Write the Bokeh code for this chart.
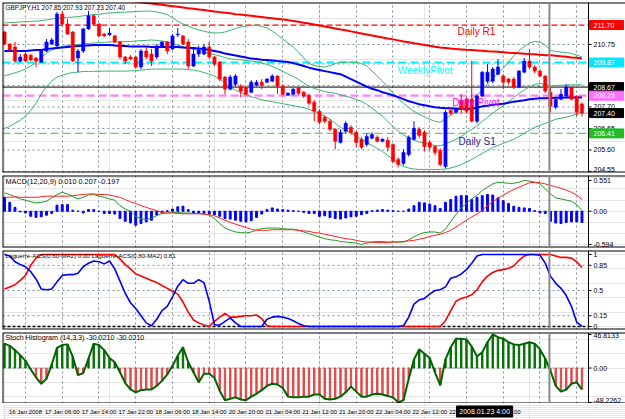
from bokeh.plotting import figure
from bokeh.layouts import column
from bokeh.models import Range1d, FixedTicker, Grid, Label, Span
from bokeh.core.properties import value
from bokeh.embed import file_html
from bokeh.resources import INLINE

# ---------------- data ----------------
open_ = [211.36,210.77,210.63,209.94,210.28,210.23,210.09,209.89,210.43,210.77,
         210.68,212.24,211.75,211.36,210.09,210.43,211.51,212.15,211.75,211.26,
         211.22,211.17,210.87,210.14,210.14,210.14,209.65,210.43,210.28,210.14,
         210.68,210.87,210.53,211.22,211.17,210.87,209.70,210.28,210.28,210.63,
         210.14,209.89,209.16,208.57,208.81,208.71,208.62,208.42,208.76,208.91,
         208.91,208.96,209.21,208.71,208.27,208.32,208.62,208.42,208.27,207.93,
         207.49,207.20,207.00,206.61,205.97,206.51,206.71,206.46,206.12,205.87,
         206.17,206.22,206.02,206.07,205.87,205.14,204.94,205.38,206.12,206.61,
         206.46,205.97,205.77,205.58,204.79,207.54,207.44,208.03,208.08,208.08,
         207.00,208.23,208.96,208.96,209.30,209.21,209.06,209.06,208.67,209.40,
         209.94,209.65,209.45,209.21,208.42,207.69,208.08,208.23,208.67,208.23,
         207.85]
high = [211.41,210.82,210.87,210.28,210.38,210.28,210.14,210.48,211.02,211.07,
        212.34,212.39,212.00,211.41,210.53,211.56,212.39,212.24,211.80,211.31,
        211.56,211.22,210.92,210.19,210.23,210.19,210.53,210.63,210.53,210.77,
        210.92,210.92,211.26,211.56,211.22,211.02,210.63,210.68,210.77,210.87,
        210.19,209.94,209.21,209.25,209.30,208.81,208.71,209.01,209.01,209.06,
        209.11,209.30,209.25,208.81,208.42,208.62,208.67,208.47,208.32,208.03,
        207.59,207.29,207.10,206.66,206.61,207.00,206.80,206.56,206.22,206.41,
        206.46,206.31,206.17,206.22,205.92,205.24,205.63,206.31,207.00,206.71,
        206.56,206.07,205.82,205.68,207.54,207.64,207.69,208.32,208.18,209.94,
        208.32,209.45,209.79,209.65,210.04,209.30,209.11,209.16,209.50,210.09,
        210.53,209.74,209.55,209.25,208.71,208.08,208.57,208.81,208.71,208.27,
        207.93]
low = [210.73,210.38,209.89,209.89,209.89,209.94,209.65,209.84,210.38,210.73,
       210.63,211.66,211.22,209.89,209.40,210.33,211.46,211.66,211.12,211.12,
       211.17,210.82,210.04,209.79,209.99,209.55,209.55,210.04,209.70,210.04,
       210.63,210.28,210.48,211.12,210.73,209.55,209.65,210.14,210.23,210.04,
       209.70,208.96,208.32,208.52,208.71,208.18,208.27,208.37,208.71,208.57,
       208.86,208.91,208.32,208.27,208.23,208.27,208.27,208.13,207.78,207.00,
       206.85,206.90,206.51,205.63,205.92,206.41,206.36,205.73,205.63,205.77,
       206.12,205.97,205.97,205.53,204.94,204.75,204.84,205.28,206.07,206.17,
       205.53,205.58,205.34,204.79,204.70,207.29,207.39,207.39,207.39,206.95,
       206.90,208.18,208.86,208.86,209.25,208.57,208.81,208.57,208.62,209.35,
       209.55,209.35,209.16,208.37,207.44,207.59,208.03,208.18,208.03,207.25,
       207.23]
close = [210.77,210.48,209.94,210.14,209.94,209.99,209.94,210.43,210.87,210.97,
         212.24,211.75,211.26,209.94,210.43,211.51,212.15,211.75,211.17,211.17,
         211.31,210.87,210.14,209.94,210.04,209.65,210.43,210.14,209.94,210.68,
         210.87,210.43,211.17,211.26,210.77,209.70,210.28,210.48,210.63,210.14,
         209.79,209.06,208.57,209.16,209.21,208.47,208.32,208.91,208.91,208.76,
         209.06,209.21,208.71,208.32,208.37,208.57,208.37,208.23,207.88,207.49,
         206.95,207.00,206.61,206.02,206.46,206.90,206.46,205.97,205.73,206.26,
         206.36,206.02,206.12,205.73,205.04,204.89,205.48,206.22,206.66,206.31,
         205.77,205.73,205.48,204.89,207.44,207.39,207.59,207.59,207.49,207.00,
         208.23,209.40,209.40,209.55,209.65,208.91,208.91,208.67,209.45,209.94,
         209.65,209.45,209.21,208.47,207.73,208.08,208.32,208.67,208.08,207.44,
         207.40]
ma_blue = [210.43,210.43,210.43,210.43,210.43,210.46,210.48,210.48,210.53,
           210.55,210.58,210.60,210.63,210.65,210.68,
           210.70,210.70,210.73,210.73,210.73,210.73,210.70,210.68,210.68,210.65,210.65,210.65,210.65,
           210.63,210.63,210.63,210.63,210.63,210.63,210.60,210.58,210.58,210.55,210.53,
           210.48,210.43,210.38,210.31,210.26,210.21,210.16,210.11,210.06,210.04,210.01,209.99,209.97,209.94,209.92,209.89,209.84,
           209.77,209.70,209.62,209.55,209.50,209.45,209.40,209.35,209.30,209.18,209.06,208.94,208.81,208.69,208.59,208.52,208.42,208.35,208.27,208.18,208.08,207.98,207.91,207.83,207.78,207.73,207.69,207.66,
           207.64,207.64,207.61,207.61,207.61,207.61,207.66,207.73,207.76,207.81,207.83,207.86,207.91,207.96,207.99,208.03,208.08,208.10,208.13,208.13,208.14,208.15,208.15,208.16,208.16,208.16,208.16]
ma_red = [213.62,213.58,213.55,213.51,213.48,213.45,213.42,213.39,213.36,213.33,
          213.30,213.27,213.24,213.21,213.18,213.15,213.12,213.09,213.06,213.03,
          213.00,212.97,212.94,212.91,212.87,212.84,212.81,212.78,212.75,212.72,
          212.69,212.65,212.62,212.59,212.56,212.52,212.49,212.46,212.43,212.40,
          212.36,212.33,212.30,212.27,212.23,212.21,212.18,212.15,212.12,212.09,
          212.06,212.03,212.00,211.97,211.94,211.90,211.86,211.81,211.77,211.73,
          211.68,211.63,211.58,211.53,211.48,211.44,211.39,211.34,211.29,211.24,
          211.19,211.14,211.09,211.04,211.00,210.95,210.90,210.86,210.81,210.77,
          210.73,210.69,210.64,210.60,210.58,210.55,210.53,210.51,210.49,210.48,
          210.46,210.44,210.42,210.41,210.39,210.37,210.35,210.34,210.32,210.30,
          210.28,210.27,210.25,210.23,210.22,210.20,210.17,210.15,210.12,210.10,
          210.07]
bb_upper = [211.80,211.82,211.83,211.85,211.86,211.88,211.89,211.91,211.95,211.99,
            212.03,212.05,212.07,212.09,212.11,212.15,212.18,212.21,212.23,212.26,
            212.29,212.30,212.32,212.33,212.34,212.36,212.37,212.38,212.38,212.34,
            212.28,212.21,212.05,211.89,211.75,211.65,211.54,211.46,211.40,211.33,
            211.31,211.32,211.36,211.44,211.53,211.61,211.65,211.68,211.70,211.63,
            211.56,211.41,211.22,211.02,210.82,210.63,210.38,210.09,209.82,209.72,
            209.67,209.65,209.72,209.82,209.89,209.89,209.89,209.88,209.82,209.70,
            209.45,209.21,208.96,208.67,208.37,208.10,207.88,207.66,207.49,207.34,
            207.22,207.10,207.00,206.95,207.12,207.29,207.44,207.64,207.86,208.08,
            208.27,208.54,208.81,209.08,209.35,209.60,209.89,210.19,210.46,210.65,
            210.82,210.90,210.87,210.73,210.46,210.41,210.38,210.36,210.31,210.23,
            210.14]
bb_mid = [209.23,209.28,209.37,209.45,209.55,209.71,209.89,210.12,210.33,210.48,
          210.59,210.65,210.70,210.73,210.75,210.78,210.80,210.82,210.84,210.86,
          210.87,210.88,210.88,210.89,210.90,210.92,210.94,210.95,210.97,210.95,
          210.92,210.88,210.80,210.72,210.65,210.58,210.52,210.46,210.39,210.31,
          210.26,210.19,210.11,210.05,210.02,210.00,209.97,209.94,209.91,209.84,
          209.78,209.68,209.56,209.44,209.31,209.19,209.04,208.87,208.70,208.60,
          208.53,208.45,208.41,208.36,208.30,208.23,208.15,208.07,207.97,207.83,
          207.64,207.44,207.25,207.00,206.75,206.52,206.34,206.19,206.08,205.99,
          205.93,205.87,205.82,205.80,205.90,206.00,206.12,206.26,206.44,206.61,
          206.78,206.99,207.20,207.40,207.59,207.76,207.96,208.15,208.36,208.53,
          208.69,208.80,208.84,208.81,208.73,208.75,208.76,208.77,208.78,208.78,
          208.78]
bb_lower = [206.66,206.75,206.90,207.05,207.25,207.54,207.88,208.32,208.71,208.96,
            209.16,209.25,209.33,209.38,209.40,209.43,209.43,209.44,209.44,209.45,
            209.45,209.45,209.45,209.45,209.46,209.48,209.50,209.52,209.55,209.55,
            209.55,209.55,209.55,209.55,209.55,209.52,209.50,209.45,209.38,209.30,
            209.21,209.06,208.86,208.67,208.52,208.40,208.30,208.20,208.13,208.05,
            208.00,207.96,207.91,207.86,207.81,207.76,207.71,207.66,207.59,207.49,
            207.39,207.25,207.10,206.90,206.71,206.56,206.41,206.26,206.12,205.97,
            205.82,205.68,205.53,205.33,205.14,204.94,204.79,204.72,204.67,204.65,
            204.65,204.65,204.65,204.65,204.67,204.72,204.79,204.89,205.01,205.14,
            205.28,205.43,205.58,205.73,205.82,205.92,206.02,206.12,206.26,206.41,
            206.56,206.71,206.80,206.90,207.00,207.10,207.15,207.20,207.27,207.34,
            207.44]
macd_hist = [0.25,0.16,0.07,-0.01,-0.03,-0.09,-0.11,-0.10,-0.07,-0.04,
             0.11,0.12,0.12,0.02,0.0,-0.03,0.03,0.03,0.0,-0.04,
             -0.04,-0.05,-0.13,-0.18,-0.21,-0.25,-0.22,-0.19,-0.16,-0.07,
             -0.03,0.01,0.04,0.08,0.09,0.03,-0.03,-0.03,-0.04,-0.05,
             -0.06,-0.09,-0.13,-0.14,-0.16,-0.18,-0.19,-0.17,-0.11,-0.05,
             0.03,0.06,0.04,0.03,0.02,0.01,0.0,-0.02,-0.04,-0.04,
             -0.09,-0.08,-0.11,-0.13,-0.14,-0.12,-0.10,-0.09,-0.06,-0.04,
             0.01,0.02,0.03,0.02,0.01,0.0,0.0,0.04,0.10,0.16,
             0.15,0.13,0.10,0.05,0.16,0.21,0.27,0.28,0.28,0.21,
             0.25,0.28,0.30,0.29,0.24,0.19,0.14,0.09,0.07,0.06,
             0.05,0.01,-0.03,-0.04,-0.18,-0.21,-0.22,-0.20,-0.19,-0.19,
             -0.20]
macd_main = [0.33,0.30,0.26,0.22,0.20,0.17,0.15,0.16,0.18,0.24,
             0.30,0.34,0.31,0.26,0.22,0.25,0.29,0.30,0.27,0.25,
             0.22,0.20,0.10,0.04,0.0,-0.09,-0.13,-0.15,-0.12,-0.08,
             -0.04,-0.03,-0.02,-0.02,-0.03,-0.03,-0.04,-0.04,-0.05,-0.07,
             -0.13,-0.22,-0.30,-0.34,-0.37,-0.38,-0.39,-0.37,-0.34,-0.31,
             -0.30,-0.30,-0.30,-0.31,-0.32,-0.32,-0.34,-0.37,-0.40,-0.43,
             -0.46,-0.49,-0.51,-0.52,-0.54,-0.55,-0.56,-0.57,-0.594,-0.57,
             -0.55,-0.54,-0.54,-0.55,-0.55,-0.55,-0.55,-0.51,-0.46,-0.41,
             -0.38,-0.37,-0.37,-0.39,-0.32,-0.18,-0.06,0.06,0.14,0.22,
             0.29,0.37,0.43,0.49,0.52,0.51,0.50,0.50,0.52,0.551,
             0.54,0.52,0.49,0.40,0.31,0.24,0.22,0.20,0.18,0.12,
             0.01]
macd_signal = [0.25,0.25,0.26,0.25,0.25,0.25,0.25,0.26,0.27,0.27,
               0.27,0.27,0.27,0.28,0.29,0.30,0.31,0.31,0.30,0.30,
               0.29,0.27,0.25,0.21,0.17,0.14,0.10,0.07,0.04,0.01,
               -0.02,-0.03,-0.03,-0.04,-0.045,-0.045,-0.045,-0.045,-0.05,-0.06,
               -0.08,-0.12,-0.16,-0.20,-0.23,-0.26,-0.29,-0.32,-0.34,-0.34,
               -0.34,-0.33,-0.33,-0.33,-0.33,-0.33,-0.34,-0.35,-0.36,-0.38,
               -0.39,-0.41,-0.43,-0.45,-0.47,-0.49,-0.50,-0.52,-0.54,-0.55,
               -0.55,-0.56,-0.56,-0.56,-0.55,-0.55,-0.54,-0.53,-0.52,-0.50,
               -0.48,-0.45,-0.43,-0.41,-0.38,-0.34,-0.28,-0.22,-0.16,-0.10,
               -0.05,0.02,0.10,0.17,0.23,0.29,0.34,0.39,0.43,0.47,
               0.51,0.52,0.51,0.49,0.46,0.44,0.41,0.38,0.34,0.29,
               0.21]
lag_fast = [1.0,0.98,0.90,0.86,0.83,0.76,0.66,0.52,0.51,0.52,
            0.62,0.71,0.72,0.72,0.74,0.83,0.88,0.91,0.90,0.87,
            0.91,0.80,0.63,0.46,0.33,0.25,0.15,0.05,0.01,0.10,
            0.22,0.28,0.41,0.56,0.65,0.60,0.60,0.65,0.61,0.35,
            0.02,0.02,0.07,0.12,0.05,0.0,0.0,0.0,0.0,0.0,
            0.10,0.13,0.14,0.13,0.11,0.08,0.04,0.01,0.0,0.0,
            0.0,0.0,0.0,0.0,0.0,0.0,0.0,0.0,0.0,0.0,
            0.0,0.0,0.0,0.0,0.0,0.0,0.01,0.13,0.31,0.37,
            0.39,0.45,0.50,0.51,0.55,0.67,0.69,0.73,0.79,0.88,
            0.98,1.0,1.0,1.0,1.0,1.0,1.0,1.0,1.0,1.0,
            1.0,1.0,0.99,0.88,0.70,0.60,0.53,0.43,0.28,0.06,
            0.0]
lag_slow = [0.52,0.55,0.58,0.64,0.71,0.85,0.95,1.0,1.0,1.0,
            1.0,1.0,1.0,1.0,1.0,1.0,1.0,1.0,1.0,1.0,
            1.0,1.0,0.94,0.86,0.80,0.73,0.70,0.67,0.64,0.61,
            0.57,0.53,0.49,0.45,0.34,0.20,0.09,0.05,0.02,0.0,
            0.07,0.13,0.18,0.13,0.13,0.14,0.15,0.15,0.16,0.11,
            0.01,0.0,0.0,0.0,0.0,0.0,0.0,0.0,0.0,0.0,
            0.0,0.0,0.0,0.0,0.0,0.0,0.0,0.0,0.0,0.0,
            0.0,0.0,0.0,0.0,0.0,0.0,0.0,0.0,0.0,0.0,
            0.0,0.0,0.0,0.0,0.08,0.22,0.35,0.39,0.41,0.44,
            0.51,0.62,0.70,0.75,0.78,0.79,0.81,0.84,0.92,0.98,
            1.0,1.0,1.0,1.0,1.0,0.98,0.96,0.96,0.95,0.90,
            0.82]
stoch_hist = [34,31,25,18,10,-2,-13,-22,-15,5,
              28,32,33,16,-10,-7,13,34,32,25,
              14,8,-6,-21,-30,-34,-31,-30,-30,-25,
              -18,-9,3,17,29,8,-6,-20,-8,-8,
              -14,-32,-45,-43,-41,-44,-45,-40,-36,-31,
              -25,-22,-23,-28,-40,-41,-41,-40,-40,-37,
              -37,-43,-44,-43,-40,-34,-26,-33,-40,-40,
              -37,-36,-37,-39,-41,-48.2262,-45,-15,12,26,
              20,14,-6,-24,12,29,41,41,40,30,
              16,22,36,46.8133,43,41,36,33,32,34,
              36,34,26,13,-4,-25,-33,-30,-22,-20,
              -30.021]

time_labels = ["16 Jan 2008", "17 Jan 06:00", "17 Jan 14:00", "17 Jan 22:00",
               "18 Jan 06:00", "18 Jan 14:00", "20 Jan 20:00", "21 Jan 04:00",
               "21 Jan 12:00", "21 Jan 20:00", "22 Jan 04:00", "22 Jan 12:00",
               "22 Jan 20:00", "23 Jan 04:00"]
price_ticks = [204.55, 205.60, 206.65, 207.70, 208.75, 209.80, 210.75]
price_tick_text = ["204.55", "205.60", "206.65", "207.70", "208.75", "209.80", "210.75"]
# level, box text, line colour, dash, width, box colour
levels = [(211.70, "211.70", "#ff0000", "6 3", 1.2, "#ff0000"),
          (209.87, "209.87", "#00f0ff", "8 4", 2, "#00e8ff"),
          (208.67, "208.67", "#000000", "solid", 1, "#000000"),
          (208.25, "208.25", "#ff80ff", "8 4", 2.2, "#ff70ff"),
          (207.40, "207.40", "#8c9cac", "solid", 1, "#000000"),
          (206.41, "206.41", "#66cc66", "8 4", 1.4, "#22bb22")]
level_texts = [("Daily R1", 86.3, 211.64, "#ff0000"),
               ("WeeklyPivot", 74.9, 209.76, "#00ffff"),
               ("Daily Pivot", 85.3, 208.20, "#ff00ff"),
               ("Daily S1", 86.5, 206.27, "#1e1e8c")]

N = len(close)
for arr in [open_, high, low, ma_blue, ma_red, bb_upper, bb_mid, bb_lower, macd_hist,
            macd_main, macd_signal, lag_fast, lag_slow, stoch_hist]:
    assert len(arr) == N, len(arr)
bars = list(range(N))
grid_bars = [4 + 7 * k for k in range(16)]
vline_bar = 103.8

FONT = "Liberation Sans"
GRID_COLOR = "#7f8fa0"
X0, X1 = -0.38, 118.29      # whole canvas width (plot area + price scale)
SEP = 111.24                # price-scale separator
PX = (X1 - X0) / 623.0      # bars per pixel
LBL_X = SEP + 5 * PX
xr = Range1d(X0, X1)


def make_fig(height, y0, y1, top, bottom, hticks):
    p = figure(width=625, height=height, x_range=xr, y_range=Range1d(y0, y1),
               output_backend="svg", toolbar_location=None,
               x_axis_location=None, y_axis_location=None,
               min_border_left=2, min_border_right=0,
               min_border_top=top, min_border_bottom=bottom)
    p.outline_line_color = None
    p.background_fill_color = "white"
    p.border_fill_color = "white"
    p.add_layout(Grid(dimension=0, ticker=FixedTicker(ticks=grid_bars),
                      grid_line_color=GRID_COLOR, grid_line_dash="2 3"))
    if hticks:
        p.segment(x0=[X0] * len(hticks), x1=[SEP] * len(hticks), y0=hticks, y1=hticks,
                  line_color=GRID_COLOR, line_dash="2 3", line_width=1)
    for loc in (y0, y1):
        p.add_layout(Span(location=loc, dimension="width", line_color="black", line_width=2))
    p.add_layout(Span(location=X0, dimension="height", line_color="black", line_width=2))
    p.add_layout(Span(location=SEP, dimension="height", line_color="black", line_width=1))
    return p


def scale_labels(p, ticks, texts, label_y=None, size="7px"):
    label_y = label_y or ticks
    p.segment(x0=[SEP] * len(ticks), x1=[SEP + 3 * PX] * len(ticks), y0=ticks, y1=ticks,
              line_color="black", line_width=1)
    p.text(x=[LBL_X] * len(ticks), y=label_y, text=texts, text_font=value(FONT),
           text_font_size=value(size), text_color="black",
           text_baseline="middle", text_align="left")


def title(p, text, fh, size):
    p.add_layout(Label(x=3, y=fh - 1, x_units="screen", y_units="screen", text=text,
                       text_font=FONT, text_font_size=size, text_color="black",
                       text_baseline="top", text_align="left"))


# ---------------- main price panel ----------------
pm = make_fig(173, 204.50, 212.80, 2, 1, price_ticks)
ppx = (212.80 - 204.50) / 170.0
scale_labels(pm, price_ticks, price_tick_text,
             label_y=[204.55 + 1.5 * ppx] + price_ticks[1:])

for lv, txt, col, dash, w, boxcol in levels:
    pm.segment(x0=[X0], x1=[SEP], y0=[lv], y1=[lv], line_color=col, line_dash=dash, line_width=w)

pm.line(bars, bb_upper, color="#3cb371", line_width=1)
pm.line(bars, bb_mid, color="#3cb371", line_width=1)
pm.line(bars, bb_lower, color="#3cb371", line_width=1)
pm.line(bars, ma_red, color="#ff0000", line_width=2)
pm.line(bars, ma_blue, color="#0000ff", line_width=2)

colors = ["#0000ff" if c >= o else "#ff0000" for o, c in zip(open_, close)]
pm.segment(x0=bars, y0=low, x1=bars, y1=high, color=colors, line_width=1)
pm.vbar(x=bars, width=0.62, top=[max(o, c) for o, c in zip(open_, close)],
        bottom=[min(o, c) for o, c in zip(open_, close)], fill_color=colors,
        line_color=colors, line_width=0.5)

for txt, xb, yv, col in level_texts:
    pm.add_layout(Label(x=xb, y=yv, text=txt, text_color=col, text_font=FONT,
                        text_font_size="10px", text_baseline="top", text_align="left"))

lv_vals = [l[0] for l in levels]
pm.quad(left=[SEP + 1 * PX] * len(levels), right=[SEP + 35 * PX] * len(levels),
        bottom=[v - 4.5 * ppx for v in lv_vals], top=[v + 4.5 * ppx for v in lv_vals],
        fill_color=[l[5] for l in levels], line_color=[l[5] for l in levels])
pm.text(x=[LBL_X] * len(levels), y=lv_vals, text=[l[1] for l in levels],
        text_font=value(FONT), text_font_size=value("7px"), text_color="white",
        text_baseline="middle", text_align="left")
title(pm, "GBPJPY,H1 207.85 207.93 207.23 207.40", 170, "6.4px")

# ---------------- MACD panel ----------------
pc = make_fig(75, -0.648, 0.640, 2, 1, [0])
scale_labels(pc, [0.551, 0.0, -0.594], ["0.551", "0.00", "-0.594"])
pc.vbar(x=bars, top=macd_hist, bottom=0, width=0.36, color="#0000ff")
pc.line(bars, macd_main, color="#229922", line_width=1)
pc.line(bars, macd_signal, color="#ff2020", line_width=1)
title(pc, "MACD(12,20,9) 0.010 0.207 -0.197", 72, "7.3px")

# ---------------- Laguerre panel ----------------
pl = make_fig(82, -0.042, 1.056, 2, 1, [0.85, 0.5, 0.15])
scale_labels(pl, [1.0, 0.85, 0.5, 0.15, 0.0], ["1", "0.85", "0.5", "0.15", "0"])
pl.segment(x0=[X0], x1=[SEP], y0=[0], y1=[0], line_color="black", line_dash="3 2", line_width=1.5)
pl.line(bars, lag_slow, color="#ff0000", line_width=1.6)
pl.line(bars, lag_fast, color="#0000ff", line_width=1.6)
title(pl, "Laguerre-ACS(0.60-MA2) 0.00  Laguerre-ACS(0.80-MA2) 0.81", 79, "6.2px")

# ---------------- Stoch histogram panel ----------------
ps = make_fig(73, -49.6, 49.6, 2, 0, [0])
scale_labels(ps, [46.8133, 0.0, -48.2262], ["46.8133", "0.00", "-48.2262"],
             label_y=[45.0, 0.0, -46.0])
scol = ["#007000" if v >= 0 else "#e04848" for v in stoch_hist]
ps.vbar(x=bars, top=stoch_hist, bottom=0, width=0.26, color=scol)
ps.line(bars, stoch_hist, color="#006400", line_width=2)
title(ps, "Stoch Histogram (14,3,3) -30.0210 -30.0210", 71, "7.1px")

# ---------------- time scale ----------------
pt = figure(width=625, height=16, x_range=xr, y_range=Range1d(0, 16),
            output_backend="svg", toolbar_location=None,
            x_axis_location=None, y_axis_location=None,
            min_border_left=2, min_border_right=0, min_border_top=0, min_border_bottom=0)
pt.outline_line_color = None
pt.background_fill_color = "white"
pt.border_fill_color = "white"
pt.text(x=grid_bars[:len(time_labels)], y=[8] * len(time_labels), text=time_labels,
        text_font=value(FONT), text_font_size=value("6px"), text_color="black",
        text_baseline="middle", text_align="center")
pt.quad(left=[86.1], right=[96.8], bottom=[2.5], top=[13.5], fill_color="black", line_color="black")
pt.text(x=[91.45], y=[8], text=["2008.01.23 4:00"], text_font=value(FONT),
        text_font_size=value("7px"), text_color="white",
        text_baseline="middle", text_align="center")

for p in (pm, pc, pl, ps):
    p.add_layout(Span(location=vline_bar, dimension="height", line_color="#8a8a8a", line_width=2))

layout = column(pm, pc, pl, ps, pt, spacing=0)
open("out.html", "w").write(file_html(layout, INLINE))
